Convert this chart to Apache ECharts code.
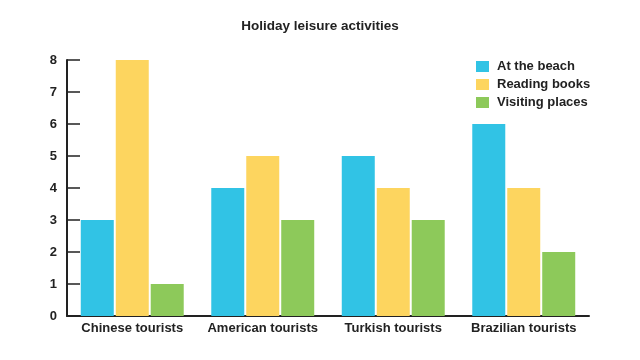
<!DOCTYPE html>
<html><head><meta charset="utf-8">
<script src="https://cdn.jsdelivr.net/npm/echarts@6/dist/echarts.min.js"></script>
<style>html,body{margin:0;padding:0;background:#fff}#c{width:640px;height:360px}</style>
</head><body><div id="c"></div>
<script>
var categories = ["Chinese tourists", "American tourists", "Turkish tourists", "Brazilian tourists"];
var beach = [3, 4, 5, 6];
var reading = [8, 5, 4, 4];
var visiting = [1, 3, 3, 2];
var seriesNames = ["At the beach", "Reading books", "Visiting places"];
var colors = ["#31C3E5", "#FDD55F", "#8DC95A"];
var font = "Liberation Sans";
var chart = echarts.init(document.getElementById('c'));
chart.setOption({
  animation: false,
  color: colors,
  title: {text: "Holiday leisure activities", left: 'center', top: 14,
    textStyle: {fontFamily: font, fontSize: 13.5, fontWeight: 'bold', color: '#222'}},
  legend: {orient: 'vertical', left: 471, top: 55, itemWidth: 13, itemHeight: 11, itemGap: 5,
    icon: 'rect', textStyle: {fontFamily: font, fontSize: 13, fontWeight: 'bold', color: '#222', padding: [0,0,0,3]},
    data: seriesNames},
  grid: {left: 67, right: 51, top: 60, bottom: 44, containLabel: false},
  xAxis: {type: 'category', data: categories,
    axisLine: {lineStyle: {color: '#222', width: 2}},
    axisTick: {inside: true, length: 5, lineStyle: {color: '#222', width: 1.5}},
    axisLabel: {interval: 0, fontFamily: font, fontSize: 13, fontWeight: 'bold', color: '#222', margin: 6}},
  yAxis: {type: 'value', min: 0, max: 8, interval: 1,
    axisLine: {show: true, lineStyle: {color: '#222', width: 2}},
    axisTick: {show: true, inside: true, length: 13, lineStyle: {color: '#222', width: 1.5}},
    splitLine: {show: false},
    axisLabel: {fontFamily: font, fontSize: 13, fontWeight: 'bold', color: '#222', margin: 10}},
  series: [
    {name: seriesNames[0], type: 'bar', data: beach, barWidth: 33, barGap: '6%'},
    {name: seriesNames[1], type: 'bar', data: reading, barWidth: 33, barGap: '6%'},
    {name: seriesNames[2], type: 'bar', data: visiting, barWidth: 33, barGap: '6%'}
  ]
});
</script></body></html>
